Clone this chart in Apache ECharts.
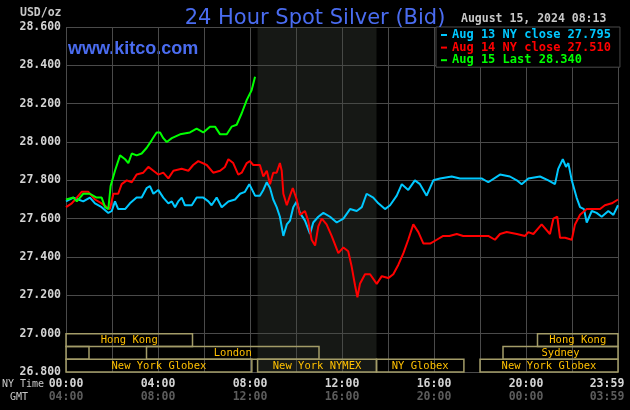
<!DOCTYPE html>
<html>
<head>
<meta charset="utf-8">
<script src="https://cdn.jsdelivr.net/npm/echarts@6/dist/echarts.min.js"></script>
<style>
  html, body { margin: 0; padding: 0; background: #000; }
  #chart { width: 630px; height: 410px; }
</style>
</head>
<body>
<div id="chart"></div>
<script>
// hours are NY time, 0 = midnight
const aug13Hours = [0,0.32,0.53,0.75,1.04,1.26,1.55,1.84,1.99,2.13,2.27,2.57,2.78,3.07,3.29,3.51,3.65,3.80,4.01,4.23,4.45,4.60,4.74,4.88,5.03,5.17,5.47,5.68,5.97,6.19,6.33,6.55,6.77,7.06,7.35,7.57,7.78,7.97,8.22,8.43,8.58,8.73,8.87,9.01,9.16,9.30,9.45,9.60,9.74,9.88,10.03,10.17,10.39,10.61,10.75,10.97,11.19,11.48,11.77,12.06,12.35,12.64,12.86,13.07,13.36,13.58,13.87,14.09,14.38,14.60,14.88,15.17,15.39,15.68,15.97,16.26,16.77,17.13,18.07,18.36,18.87,19.30,19.60,19.81,20.10,20.61,20.97,21.26,21.40,21.60,21.74,21.84,21.99,22.20,22.35,22.52,22.64,22.86,23.07,23.29,23.58,23.80,24];
const aug13Values = [27.69,27.71,27.70,27.69,27.71,27.68,27.66,27.63,27.64,27.69,27.65,27.65,27.68,27.71,27.71,27.76,27.77,27.73,27.75,27.71,27.68,27.69,27.66,27.69,27.71,27.67,27.67,27.71,27.71,27.69,27.67,27.71,27.66,27.69,27.70,27.73,27.74,27.78,27.72,27.72,27.75,27.79,27.76,27.70,27.66,27.61,27.51,27.57,27.59,27.66,27.69,27.63,27.59,27.52,27.58,27.61,27.63,27.61,27.58,27.60,27.65,27.64,27.66,27.73,27.71,27.68,27.65,27.67,27.72,27.78,27.75,27.80,27.78,27.72,27.80,27.81,27.82,27.81,27.81,27.79,27.83,27.82,27.80,27.78,27.81,27.82,27.80,27.78,27.86,27.91,27.87,27.89,27.80,27.71,27.66,27.65,27.58,27.64,27.63,27.61,27.64,27.62,27.67];

const aug14Hours = [0,0.25,0.47,0.68,0.97,1.26,1.55,1.77,1.91,2.06,2.27,2.42,2.64,2.86,3.07,3.36,3.58,3.80,4.01,4.23,4.45,4.67,5.03,5.32,5.53,5.75,6.12,6.40,6.70,6.91,7.06,7.27,7.49,7.64,7.86,8.00,8.14,8.43,8.58,8.73,8.87,9.01,9.16,9.30,9.38,9.45,9.60,9.74,9.86,10.03,10.17,10.39,10.53,10.68,10.83,10.97,11.12,11.33,11.55,11.84,12.06,12.27,12.42,12.57,12.67,12.78,13.00,13.22,13.51,13.73,14.01,14.23,14.45,14.67,14.88,15.10,15.32,15.54,15.83,16.12,16.40,16.67,16.99,17.27,18.36,18.65,18.87,19.16,19.60,19.96,20.10,20.32,20.68,21.04,21.19,21.36,21.48,21.70,21.99,22.13,22.35,22.64,22.86,23.22,23.43,23.73,24];
const aug14Values = [27.66,27.68,27.71,27.74,27.74,27.70,27.68,27.66,27.65,27.73,27.73,27.78,27.80,27.79,27.83,27.84,27.87,27.85,27.83,27.84,27.81,27.85,27.86,27.85,27.88,27.90,27.88,27.84,27.85,27.87,27.91,27.89,27.83,27.84,27.89,27.90,27.88,27.88,27.82,27.85,27.78,27.84,27.84,27.89,27.85,27.73,27.67,27.72,27.76,27.70,27.62,27.64,27.59,27.49,27.46,27.56,27.60,27.57,27.51,27.42,27.45,27.43,27.35,27.25,27.19,27.26,27.31,27.31,27.26,27.30,27.29,27.31,27.36,27.42,27.49,27.57,27.53,27.47,27.47,27.49,27.51,27.51,27.52,27.51,27.51,27.49,27.52,27.53,27.52,27.51,27.53,27.52,27.57,27.52,27.60,27.61,27.50,27.50,27.49,27.57,27.62,27.65,27.65,27.65,27.67,27.68,27.70];

const aug15Hours = [0,0.32,0.47,0.75,1.04,1.33,1.55,1.70,1.84,1.94,2.13,2.35,2.57,2.71,2.86,3.07,3.29,3.51,3.73,3.94,4.09,4.23,4.38,4.60,4.96,5.39,5.68,5.97,6.26,6.48,6.70,6.99,7.20,7.42,7.64,7.86,8.07,8.22];
const aug15Values = [27.70,27.71,27.69,27.73,27.73,27.71,27.71,27.66,27.65,27.77,27.85,27.93,27.91,27.89,27.94,27.93,27.94,27.97,28.01,28.05,28.05,28.02,28.00,28.02,28.04,28.05,28.07,28.05,28.08,28.08,28.04,28.04,28.08,28.09,28.15,28.22,28.27,28.34];

const seriesNames = ["Aug 13 NY close 27.795", "Aug 14 NY close 27.510", "Aug 15 Last 28.340"];
const seriesColors = ["#00c8ff", "#ff0000", "#00ff00"];

const labelHours = [0, 4, 8, 12, 16, 20, 24];
const nyLabels = ["00:00", "04:00", "08:00", "12:00", "16:00", "20:00", "23:59"];
const gmtLabels = ["04:00", "08:00", "12:00", "16:00", "20:00", "00:00", "03:59"];

// trading sessions: start / end hour, row (0 = top)
const sessionNames = ["Hong Kong", "Hong Kong", "", "London", "Sydney", "New York Globex", "New York NYMEX", "NY Globex", "New York Globex"];
const sessionStart = [0, 20.5, 0, 3.5, 19, 0, 8.33, 13.5, 18];
const sessionEnd = [5.5, 24, 1, 11, 24, 8.08, 13.5, 17.3, 24];
const sessionRow = [0, 0, 1, 1, 1, 2, 2, 2, 2];

const nymexShade = [8.33, 13.5];

const zip = (h, v) => h.map((x, i) => [x, v[i]]);
const mono = '"DejaVu Sans Mono", monospace';
const gridColor = "#4a4a4a";

const chart = echarts.init(document.getElementById("chart"));

const tickFormatter = (labels) => (v) => {
  const i = labelHours.indexOf(v);
  if (i < 0) return "";
  return v === 24 ? "{e|" + labels[i] + "}" : labels[i];
};

chart.setOption({
  animation: false,
  backgroundColor: "#000",
  title: {
    text: "24 Hour Spot Silver (Bid)",
    left: "center",
    top: 3,
    textStyle: { fontFamily: "DejaVu Sans", fontSize: 21, fontWeight: "normal", color: "#4a6cf0" }
  },
  legend: {
    orient: "vertical",
    left: 436,
    top: 27,
    padding: [2, 9, 1, 5],
    itemGap: 0.6,
    itemWidth: 6,
    itemHeight: 2,
    icon: "rect",
    selectedMode: false,
    backgroundColor: "#000",
    borderColor: gridColor,
    borderWidth: 1,
    textStyle: { fontFamily: mono, fontSize: 12, fontWeight: "bold" },
    data: seriesNames.map((n, i) => ({ name: n, textStyle: { color: seriesColors[i] } }))
  },
  grid: { left: 66, right: 12, top: 27, bottom: 38 },
  xAxis: [
    {
      type: "value", min: 0, max: 24, interval: 2,
      axisLine: { show: false }, axisTick: { show: false },
      splitLine: { lineStyle: { color: gridColor } },
      axisLabel: {
        margin: 6, color: "#d4d4d4", fontFamily: mono, fontSize: 11.5, fontWeight: "bold",
        showMaxLabel: true, formatter: tickFormatter(nyLabels),
        rich: { e: { padding: [0, 22, 0, 0], color: "#d4d4d4", fontFamily: mono, fontSize: 11.5, fontWeight: "bold" } }
      }
    },
    {
      type: "value", min: 0, max: 24, interval: 2, position: "bottom", offset: 13.5,
      axisLine: { show: false }, axisTick: { show: false }, splitLine: { show: false },
      axisLabel: {
        margin: 6, color: "#5c5c5c", fontFamily: mono, fontSize: 11.5, fontWeight: "bold",
        showMaxLabel: true, formatter: tickFormatter(gmtLabels),
        rich: { e: { padding: [0, 22, 0, 0], color: "#5c5c5c", fontFamily: mono, fontSize: 11.5, fontWeight: "bold" } }
      }
    }
  ],
  yAxis: {
    type: "value", min: 26.8, max: 28.6, interval: 0.2,
    axisLine: { show: false }, axisTick: { show: false },
    splitLine: { lineStyle: { color: gridColor } },
    axisLabel: {
      margin: 5, color: "#d4d4d4", fontFamily: mono, fontSize: 11.5, fontWeight: "bold",
      formatter: (v) => v.toFixed(3)
    }
  },
  graphic: [
    { type: "text", x: 20, y: 13, style: { text: "USD/oz", fill: "#c8c8c8", font: "bold 11.5px " + mono, verticalAlign: "middle" } },
    { type: "text", x: 461, y: 19.5, style: { text: "August 15, 2024 08:13", fill: "#c8c8c8", font: "bold 11.5px " + mono, verticalAlign: "middle" } },
    { type: "text", x: 68, y: 49.5, style: { text: "www.kitco.com", fill: "#4a6cf0", font: 'bold 18px "Liberation Sans", Arial', verticalAlign: "middle" } },
    { type: "text", x: 2, y: 384, style: { text: "NY Time", fill: "#c8c8c8", font: "10px " + mono, verticalAlign: "middle" } },
    { type: "text", x: 10, y: 397, style: { text: "GMT", fill: "#c8c8c8", font: "10px " + mono, verticalAlign: "middle" } }
  ],
  series: [
    {
      type: "custom",
      z: 1,
      silent: true,
      renderItem: (params, api) => {
        const rowH = 0.2 / 3;
        const top = 27 - api.value(2) * rowH;
        const p0 = api.coord([api.value(0), top]);
        const p1 = api.coord([api.value(1), top - rowH]);
        return {
          type: "group",
          children: [
            { type: "rect", shape: { x: p0[0], y: p0[1], width: p1[0] - p0[0], height: p1[1] - p0[1] },
              style: { fill: "none", stroke: "#a39c68", lineWidth: 1.5 } },
            { type: "text", style: { text: sessionNames[params.dataIndex], x: (p0[0] + p1[0]) / 2, y: (p0[1] + p1[1]) / 2 + 0.5,
              align: "center", verticalAlign: "middle", fill: "#ffc000", font: "10.5px " + mono } }
          ]
        };
      },
      data: sessionStart.map((s, i) => [s, sessionEnd[i], sessionRow[i]]),
      markArea: {
        silent: true,
        itemStyle: { color: "rgba(66,72,63,0.33)" },
        data: [[{ xAxis: nymexShade[0], yAxis: 28.6 }, { xAxis: nymexShade[1], yAxis: 26.8 }]]
      }
    },
    { name: seriesNames[0], type: "line", data: zip(aug13Hours, aug13Values), showSymbol: false, color: seriesColors[0], lineStyle: { width: 2 } },
    { name: seriesNames[1], type: "line", data: zip(aug14Hours, aug14Values), showSymbol: false, color: seriesColors[1], lineStyle: { width: 2 } },
    { name: seriesNames[2], type: "line", data: zip(aug15Hours, aug15Values), showSymbol: false, color: seriesColors[2], lineStyle: { width: 2 } }
  ]
});
</script>
</body>
</html>
